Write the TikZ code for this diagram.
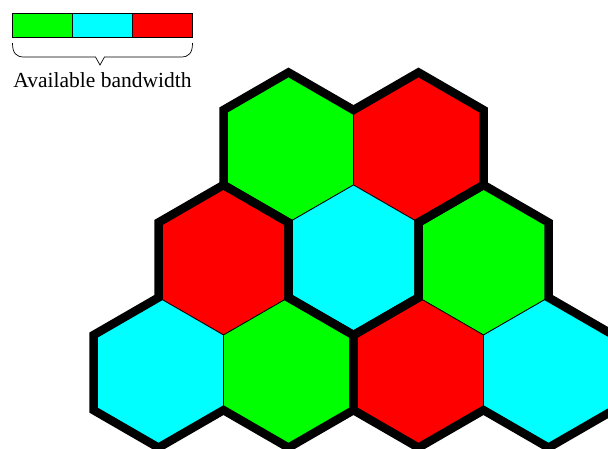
\documentclass[tikz,border=0pt]{standalone}
\usepackage{fontspec}
\setmainfont{Liberation Serif}
\definecolor{cgreen}{RGB}{0,255,0}
\definecolor{ccyan}{RGB}{0,255,255}
\definecolor{cred}{RGB}{255,0,0}
\newcommand\HW{65}
\newcommand\HR{75.06}
\newcommand\HH{37.53}
% hexagon path centred at (#1,#2), pointy top
\newcommand\hexpath[2]{({#1},{#2-\HR}) -- ({#1+\HW},{#2-\HH}) -- ({#1+\HW},{#2+\HH}) -- ({#1},{#2+\HR}) -- ({#1-\HW},{#2+\HH}) -- ({#1-\HW},{#2-\HH}) -- cycle}
% cluster: two on top (A left, B right), one below (C)
\newcommand\clusterdown[2]{% #1,#2 = centre of top-left hex
  ({#1-\HW},{#2-\HH}) -- ({#1},{#2-\HR}) -- ({#1+\HW},{#2-\HH}) -- ({#1+2*\HW},{#2-\HR}) -- ({#1+3*\HW},{#2-\HH}) -- ({#1+3*\HW},{#2+\HH}) -- ({#1+2*\HW},{#2+\HR}) -- ({#1+2*\HW},{#2+\HR+2*\HH}) -- ({#1+\HW},{#2+2*\HR+\HH}) -- ({#1},{#2+\HR+2*\HH}) -- ({#1},{#2+\HR}) -- ({#1-\HW},{#2+\HH}) -- cycle}
% cluster: one on top (T), two below
\newcommand\clusterup[2]{% #1,#2 = centre of top hex
  ({#1-\HW},{#2-\HH}) -- ({#1},{#2-\HR}) -- ({#1+\HW},{#2-\HH}) -- ({#1+\HW},{#2+\HH}) -- ({#1+2*\HW},{#2+\HR}) -- ({#1+2*\HW},{#2+\HR+2*\HH}) -- ({#1+\HW},{#2+2*\HR+\HH}) -- ({#1},{#2+\HR+2*\HH}) -- ({#1-\HW},{#2+2*\HR+\HH}) -- ({#1-2*\HW},{#2+\HR+2*\HH}) -- ({#1-2*\HW},{#2+\HR}) -- ({#1-\HW},{#2+\HH}) -- cycle}
\tikzset{
  cell/.style={draw=black, line width=0.8pt, line join=miter},
  cluster/.style={draw=black, line width=8.5pt, line join=miter, miter limit=10},
  band/.style={draw=black, line width=0.8pt},
  bracepath/.style={draw=black, line width=0.7pt},
  label/.style={font=\fontsize{21.5}{24}\selectfont, inner sep=0pt, anchor=base}
}
\begin{document}
\begin{tikzpicture}[x=1pt,y=-1pt]
\useasboundingbox (0,0) rectangle (608,448);
\clip (0,0) rectangle (608,448);
% bandwidth bar
\filldraw[band, fill=cgreen] (12.5,13.3) rectangle (72.5,37.3);
\filldraw[band, fill=ccyan] (72.5,13.3) rectangle (132.5,37.3);
\filldraw[band, fill=cred] (132.5,13.3) rectangle (192.5,37.3);
% brace
\draw[bracepath] (12.5,43) .. controls (12.5,53) and (16,57) .. (24,57) -- (95.5,57) -- (100,65) -- (104.5,57) -- (181,57) .. controls (189,57) and (192.5,53) .. (192.5,43);
\node[label] (bw) at (102.5,87) {Available bandwidth};
% cells row 1
\filldraw[cell, fill=cgreen] \hexpath{288.5}{147.5};
\filldraw[cell, fill=cred] \hexpath{418.5}{147.5};
% row 2
\filldraw[cell, fill=cred] \hexpath{223.5}{260};
\filldraw[cell, fill=ccyan] \hexpath{353.5}{260};
\filldraw[cell, fill=cgreen] \hexpath{483.5}{260};
% row 3
\filldraw[cell, fill=ccyan] \hexpath{158.5}{372.5};
\filldraw[cell, fill=cgreen] \hexpath{288.5}{372.5};
\filldraw[cell, fill=cred] \hexpath{418.5}{372.5};
\filldraw[cell, fill=ccyan] \hexpath{548.5}{372.5};
% cluster outlines
\draw[cluster] \clusterdown{288.5}{147.5};
\draw[cluster] \clusterup{223.5}{260};
\draw[cluster] \clusterup{483.5}{260};
\end{tikzpicture}
\end{document}
